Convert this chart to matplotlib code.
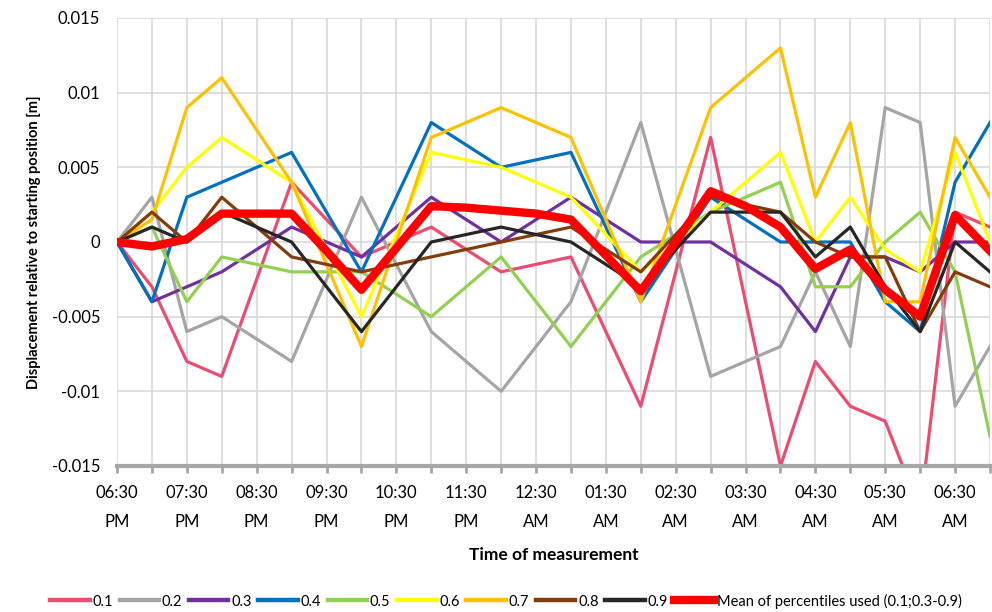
import numpy as np
import matplotlib.pyplot as plt

# time of measurement, every 30 min from 06:30 PM to 07:00 AM
times = ["06:30 PM", "07:00 PM", "07:30 PM", "08:00 PM", "08:30 PM", "09:00 PM",
         "09:30 PM", "10:00 PM", "10:30 PM", "11:00 PM", "11:30 PM", "12:00 AM",
         "12:30 AM", "01:00 AM", "01:30 AM", "02:00 AM", "02:30 AM", "03:00 AM",
         "03:30 AM", "04:00 AM", "04:30 AM", "05:00 AM", "05:30 AM", "06:00 AM",
         "06:30 AM", "07:00 AM"]

# displacements in mm (converted to m below)
p01 = [0, -3, -8, -9, -2.5, 4, 1.5, -1, 0, 1, -0.5, -2, -1.5, -1, -6, -11, -2, 7, -4, -15, -8, -11, -12, -18, 2, 1]
p02 = [0, 3, -6, -5, -6.5, -8, -2.5, 3, -1.5, -6, -8, -10, -7, -4, 2, 8, -0.5, -9, -8, -7, -2, -7, 9, 8, -11, -7]
p03 = [0, -4, -3, -2, -0.5, 1, 0, -1, 1, 3, 1.5, 0, 1.5, 3, 1.5, 0, 0, 0, -1.5, -3, -6, -1, -1, -2, 0, 0]
p04 = [0, -4, 3, 4, 5, 6, 2, -2, 3, 8, 6.5, 5, 5.5, 6, 1, -4, -0.5, 3, 1.5, 0, 0, 0, -4, -6, 4, 8]
p05 = [0, 1, -4, -1, -1.5, -2, -2, -2, -3.5, -5, -3, -1, -4, -7, -4, -1, 0.5, 2, 3, 4, -3, -3, 0, 2, -2, -13]
p06 = [0, 2, 5, 7, 5.5, 4, -0.5, -5, 0.5, 6, 5.5, 5, 4, 3, 0.5, -2, 0, 2, 4, 6, 0, 3, -0.5, -2, 6, 0]
p07 = [0, 1.5, 9, 11, 7.5, 4, -1.5, -7, 0, 7, 8, 9, 8, 7, 1.5, -4, 2.5, 9, 11, 13, 3, 8, -4, -4, 7, 3]
p08 = [0, 2, 0, 3, 1, -1, -1.5, -2, -1.5, -1, -0.5, 0, 0.5, 1, -0.5, -2, 0.5, 3, 2.5, 2, 0, -1, -1, -6, -2, -3]
p09 = [0, 1, 0, 2, 1, 0, -3, -6, -3, 0, 0.5, 1, 0.5, 0, -1.5, -3, -0.5, 2, 2, 2, -1, 1, -3, -6, 0, -2]
mean = [0, -0.3, 0.2, 1.9, 1.9, 1.9, -0.6, -3.2, -0.4, 2.4, 2.3, 2.1, 1.9, 1.5, -0.9, -3.3, 0, 3.4, 2.4, 1.0, -1.8, -0.5, -3.2, -5.0, 1.8, -0.6]

series = [p01, p02, p03, p04, p05, p06, p07, p08, p09]
names = ["0.1", "0.2", "0.3", "0.4", "0.5", "0.6", "0.7", "0.8", "0.9"]
colors = ["#EE4B70", "#A5A5A5", "#7030A0", "#0070C0", "#92D050",
          "#FFFF00", "#FFC000", "#843C0C", "#262626"]

plt.rcParams['font.family'] = ['Lato', 'DejaVu Sans']

fig = plt.figure(figsize=(9.92, 6.12), dpi=100)
ax = fig.add_axes([117 / 992, 1 - 466 / 612, 873 / 992, 448 / 612])

x = np.arange(len(times))
for vals, name, c in zip(series, names, colors):
    ax.plot(x, np.array(vals) / 1000, color=c, lw=2.3, label=name)
ax.plot(x, np.array(mean) / 1000, color="#FF0000", lw=6,
        label="Mean of percentiles used (0.1;0.3-0.9)")

ax.set_xlim(0, len(times) - 1)
ax.set_ylim(-0.015, 0.015)
ax.set_yticks([-0.015, -0.01, -0.005, 0, 0.005, 0.01, 0.015])
ax.set_yticklabels(["-0.015", "-0.01", "-0.005", "0", "0.005", "0.01", "0.015"])

labels = [t.replace(" ", "\n") if i % 2 == 0 else "" for i, t in enumerate(times)]
ax.set_xticks(x)
ax.set_xticklabels(labels, linespacing=2.0)

ax.grid(True, color="#D9D9D9", lw=1.2)
ax.set_axisbelow(True)
for s in ["top", "right", "left"]:
    ax.spines[s].set_visible(False)
ax.spines["bottom"].set_color("#A6A6A6")
ax.spines["bottom"].set_linewidth(3)
ax.spines["bottom"].set_zorder(5)
ax.tick_params(axis="x", length=5, width=2, color="#A6A6A6", labelsize=12, pad=9)
ax.tick_params(axis="y", length=0, labelsize=12, pad=12)

ax.set_ylabel("Displacement relative to starting position [m]", fontsize=10.5,
              fontweight="bold", labelpad=8)
ax.set_xlabel("Time of measurement", fontsize=12.5, fontweight="bold", labelpad=12)

leg = fig.legend(loc="center", bbox_to_anchor=(0.51, 0.018), ncol=10, frameon=False,
                 fontsize=10.5, handlelength=2.7, columnspacing=0.45, handletextpad=0.2,
                 borderaxespad=0)
for h in leg.get_lines()[:-1]:
    h.set_linewidth(3.2)

fig.savefig("out.png", dpi=100)
